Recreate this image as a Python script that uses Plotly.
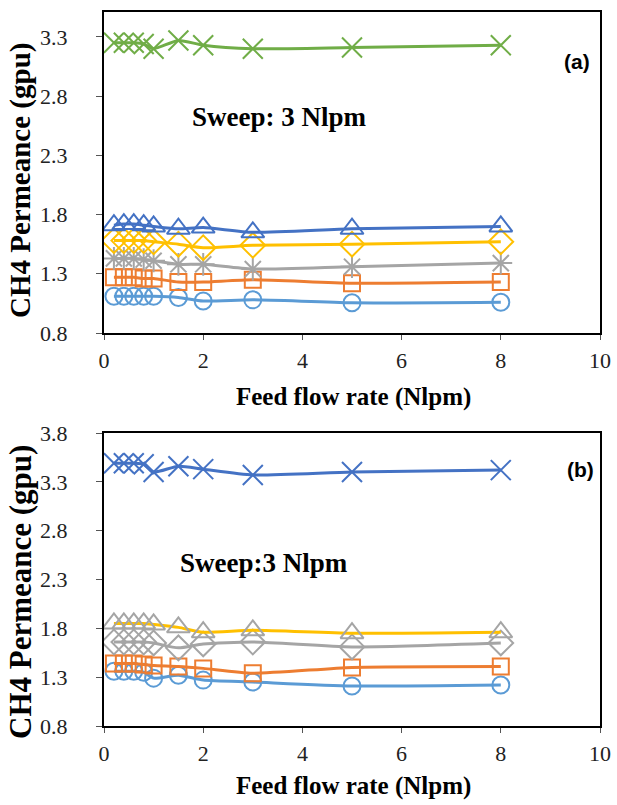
import plotly.graph_objects as go

# ---------------- data ----------------
feed = [0.2, 0.4, 0.6, 0.8, 1.0, 1.5, 2, 3, 5, 8]

# panel (a)
a_x_green   = [3.25, 3.25, 3.25, 3.24, 3.20, 3.27, 3.23, 3.20, 3.21, 3.23]
a_tri_blue  = [1.71, 1.72, 1.72, 1.71, 1.70, 1.68, 1.69, 1.65, 1.68, 1.70]
a_dia_yel   = [1.58, 1.58, 1.58, 1.58, 1.57, 1.55, 1.52, 1.54, 1.55, 1.57]
a_ast_gray  = [1.43, 1.43, 1.43, 1.42, 1.41, 1.38, 1.38, 1.34, 1.36, 1.39]
a_sq_orange = [1.27, 1.27, 1.27, 1.26, 1.26, 1.23, 1.23, 1.25, 1.22, 1.23]
a_ci_blue   = [1.11, 1.11, 1.11, 1.11, 1.11, 1.10, 1.07, 1.08, 1.055, 1.06]

# panel (b)
b_x_blue    = [3.49, 3.49, 3.49, 3.48, 3.40, 3.46, 3.43, 3.37, 3.40, 3.42]
b_tri       = [1.85, 1.85, 1.85, 1.85, 1.84, 1.81, 1.76, 1.78, 1.75, 1.76]
b_dia_gray  = [1.66, 1.66, 1.66, 1.66, 1.65, 1.60, 1.64, 1.66, 1.61, 1.65]
b_sq_orange = [1.44, 1.44, 1.44, 1.43, 1.42, 1.41, 1.39, 1.34, 1.40, 1.41]
b_ci_blue   = [1.36, 1.36, 1.36, 1.35, 1.29, 1.32, 1.27, 1.25, 1.21, 1.22]

y_ticks_a = [0.8, 1.3, 1.8, 2.3, 2.8, 3.3]
y_ticks_b = [0.8, 1.3, 1.8, 2.3, 2.8, 3.3, 3.8]
x_ticks = [0, 2, 4, 6, 8, 10]

# ---------------- figure ----------------
W, H = 617, 805
GREEN, BLUE, YELLOW, GRAY, ORANGE, LBLUE = "#70AD47", "#4472C4", "#FFC000", "#A5A5A5", "#ED7D31", "#5B9BD5"

fig = go.Figure()

def add(x, y, line_color, marker_color, symbol, xa, ya, size=15):
    fig.add_trace(go.Scatter(
        x=x, y=y, mode="lines+markers", xaxis=xa, yaxis=ya,
        line=dict(color=line_color, width=3, shape="spline", smoothing=0.6),
        marker=dict(symbol=symbol, size=size, color=marker_color,
                    line=dict(color=marker_color, width=2)),
        showlegend=False, hoverinfo="x+y"))

add(feed, a_ci_blue, LBLUE, LBLUE, "circle-open", "x", "y", 17)
add(feed, a_sq_orange, ORANGE, ORANGE, "square-open", "x", "y", 16)
add(feed, a_ast_gray, GRAY, GRAY, "asterisk-open", "x", "y", 19)
add(feed, a_dia_yel, YELLOW, YELLOW, "diamond-open", "x", "y", 19)
add(feed, a_tri_blue, BLUE, BLUE, "triangle-up-open", "x", "y", 20)
add(feed, a_x_green, GREEN, GREEN, "x-thin-open", "x", "y", 20)

add(feed, b_ci_blue, LBLUE, LBLUE, "circle-open", "x2", "y2", 17)
add(feed, b_sq_orange, ORANGE, ORANGE, "square-open", "x2", "y2", 16)
add(feed, b_dia_gray, GRAY, GRAY, "diamond-open", "x2", "y2", 19)
add(feed, b_tri, YELLOW, GRAY, "triangle-up-open", "x2", "y2", 20)
add(feed, b_x_blue, BLUE, BLUE, "x-thin-open", "x2", "y2", 20)

def px(v):
    return v / W

def py(v):
    return 1 - v / H

tickfont = dict(family="Liberation Serif", size=22, color="#222")
NOTICK = "rgba(0,0,0,0)"

xdom = [px(104), px(600)]
# major ticks are invisible spacers that set the label offset; the visible
# short tick marks are drawn as minor ticks at the same positions
common_x = dict(range=[0, 10], tickvals=x_ticks, ticks="outside", ticklen=7,
                tickcolor=NOTICK, showline=True, linecolor="black", linewidth=2,
                mirror=True, showgrid=False, zeroline=False, tickfont=tickfont,
                automargin=False,
                minor=dict(ticks="outside", ticklen=5, tickcolor="#555", tick0=0, dtick=2,
                           showgrid=False))
common_y = dict(ticks="outside", ticklen=30, tickcolor=NOTICK, showline=True,
                linecolor="black", linewidth=2, mirror=True, showgrid=False,
                zeroline=False, tickfont=tickfont, automargin=False,
                minor=dict(ticks="outside", ticklen=6, tickcolor="#555", tick0=0.8, dtick=0.5,
                           showgrid=False))

ytitle = "<b>CH4 Permeance (gpu)</b>"
xtitle = "<b>Feed flow rate (Nlpm)</b>"

def ann(text, x, y, size, family="Liberation Serif", angle=0, xanchor="center"):
    return dict(text=text, x=px(x), y=py(y), xref="paper", yref="paper",
                xanchor=xanchor, yanchor="middle", showarrow=False, textangle=angle,
                font=dict(family=family, size=size, color="black"))

fig.update_layout(
    width=W, height=H, margin=dict(l=0, r=0, t=0, b=0),
    paper_bgcolor="white", plot_bgcolor="white",
    xaxis=dict(domain=xdom, anchor="y", **common_x),
    yaxis=dict(domain=[py(333), py(12)], anchor="x", range=[0.8, 3.51],
               tickvals=y_ticks_a, ticktext=[f"{v:.1f}" for v in y_ticks_a], **common_y),
    xaxis2=dict(domain=xdom, anchor="y2", **common_x),
    yaxis2=dict(domain=[py(726), py(433)], anchor="x2", range=[0.8, 3.8],
                tickvals=y_ticks_b, ticktext=[f"{v:.1f}" for v in y_ticks_b], **common_y),
    annotations=[
        ann(ytitle, 20, 181, 29, angle=-90),
        ann(ytitle, 20, 592, 31, angle=-90),
        ann(xtitle, 354, 397, 25),
        ann(xtitle, 354, 786, 25),
        ann("<b>Sweep: 3 Nlpm</b>", 190, 117, 27, xanchor="left"),
        ann("<b>Sweep:3 Nlpm</b>", 178, 563, 27, xanchor="left"),
        ann("<b>(a)</b>", 577, 62, 21, family="Liberation Sans"),
        ann("<b>(b)</b>", 580, 469, 21, family="Liberation Sans"),
    ],
)

fig.write_html(
    "out.html",
    config={"displayModeBar": False},
    post_script="document.body.style.margin='0';document.body.style.overflow='hidden';",
)
